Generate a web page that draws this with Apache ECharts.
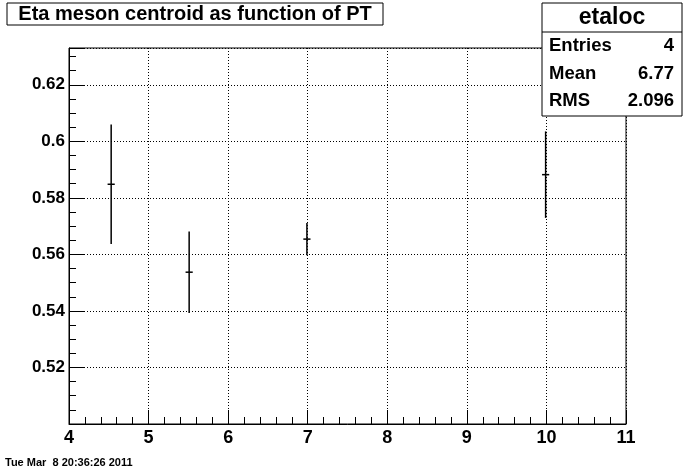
<!DOCTYPE html>
<html><head><meta charset="utf-8">
<script src="https://cdn.jsdelivr.net/npm/echarts@6/dist/echarts.min.js"></script>
<style>html,body{margin:0;padding:0;background:#fff}#c{width:696px;height:472px}</style>
</head><body><div id="c"></div>
<script>
// ---- data ----
const chartTitle = 'Eta meson centroid as function of PT';
const histName = 'etaloc';
const statLabels = ['Entries', 'Mean', 'RMS'];
const statValues = ['4', '6.77', '2.096'];
const dateText = 'Tue Mar  8 20:36:26 2011';
const xVals = [4.53, 5.51, 6.99, 9.99];
const yVals = [0.5848, 0.5537, 0.5654, 0.5882];
const yErr  = [0.0211, 0.0144, 0.0057, 0.0153];
const xErr  = [0.045, 0.045, 0.045, 0.045];
const xMin = 4, xMax = 11, xStep = 1;
const yMin = 0.5, yMax = 0.633, yStep = 0.02, yMinorStep = 0.005;

const FONT = '"Liberation Sans", Arial, Helvetica, sans-serif';
const chart = echarts.init(document.getElementById('c'), null, {renderer: 'canvas'});
const data = xVals.map((x, i) => [x, yVals[i], yErr[i], xErr[i]]);

function yFmt(v) {
  const k = Math.round(v / yStep);
  const t = k * yStep;
  if (Math.abs(v - t) > 1e-6 || t < 0.51 || t > yMax) return '';
  return String(+t.toFixed(2));
}

chart.setOption({
  animation: false,
  backgroundColor: '#fff',
  grid: {left: 69, right: 70, top: 48, bottom: 48, show: true,
         borderColor: '#000', borderWidth: 1, backgroundColor: '#fff'},
  xAxis: {
    type: 'value', min: xMin, max: xMax, interval: xStep,
    axisLine: {show: true, onZero: false, lineStyle: {color: '#000', width: 1}},
    axisTick: {show: true, inside: true, length: 14, lineStyle: {color: '#000'}},
    minorTick: {show: true, splitNumber: 5, length: 7, lineStyle: {color: '#000'}},
    axisLabel: {color: '#000', fontFamily: FONT, fontWeight: 'bold', fontSize: 18, margin: 5},
    splitLine: {show: true, lineStyle: {color: '#000', type: [1, 2], width: 1}}
  },
  yAxis: [{
    type: 'value', min: yMin, max: yMax, interval: yStep,
    axisLine: {show: true, onZero: false, lineStyle: {color: '#000', width: 1}},
    axisTick: {show: true, inside: true, length: 16, lineStyle: {color: '#000'}},
    axisLabel: {color: '#000', fontFamily: FONT, fontWeight: 'bold', fontSize: 17, margin: 4,
                formatter: yFmt, showMinLabel: true, showMaxLabel: true},
    splitLine: {show: true, lineStyle: {color: '#000', type: [1, 2], width: 1}}
  }, {
    type: 'value', min: yMin, max: yMax, interval: yMinorStep, position: 'left',
    axisLine: {show: false},
    axisTick: {show: true, inside: true, length: 7, lineStyle: {color: '#000'}},
    axisLabel: {show: false},
    splitLine: {show: false}
  }],
  series: [{
    type: 'custom',
    xAxisIndex: 0, yAxisIndex: 0,
    data: data,
    encode: {x: 0, y: 1},
    clip: false,
    renderItem: function (params, api) {
      const x = api.value(0), y = api.value(1), ey = api.value(2), ex = api.value(3);
      const top = api.coord([x, y + ey]), bot = api.coord([x, y - ey]);
      const l = api.coord([x - ex, y]), r = api.coord([x + ex, y]);
      return {type: 'group', children: [
        {type: 'line', shape: {x1: top[0], y1: top[1], x2: bot[0], y2: bot[1]},
         style: {stroke: '#000', lineWidth: 1.5}},
        {type: 'line', shape: {x1: l[0], y1: l[1], x2: r[0], y2: r[1]},
         style: {stroke: '#000', lineWidth: 1.5}}
      ]};
    }
  }],
  graphic: [
    {type: 'rect', z: 100, shape: {x: 7, y: 3, width: 376, height: 22},
     style: {fill: '#fff', stroke: '#000', lineWidth: 1}},
    {type: 'text', z: 101, x: 195, y: 14,
     style: {text: chartTitle, font: 'bold 20px ' + FONT, fill: '#000',
             textAlign: 'center', textVerticalAlign: 'middle'}},
    {type: 'rect', z: 100, shape: {x: 542, y: 3, width: 140, height: 113},
     style: {fill: '#fff', stroke: '#000', lineWidth: 1}},
    {type: 'line', z: 101, shape: {x1: 542, y1: 32, x2: 682, y2: 32},
     style: {stroke: '#000', lineWidth: 1}},
    {type: 'text', z: 101, x: 612, y: 18,
     style: {text: histName, font: 'bold 23px ' + FONT, fill: '#000',
             textAlign: 'center', textVerticalAlign: 'middle'}},
    ...statLabels.map((s, i) => ({type: 'text', z: 101, x: 549, y: 46 + i * 27.5,
     style: {text: s, font: 'bold 18.5px ' + FONT, fill: '#000',
             textAlign: 'left', textVerticalAlign: 'middle'}})),
    ...statValues.map((s, i) => ({type: 'text', z: 101, x: 674, y: 46 + i * 27.5,
     style: {text: s, font: 'bold 18.5px ' + FONT, fill: '#000',
             textAlign: 'right', textVerticalAlign: 'middle'}})),
    {type: 'text', z: 101, x: 5, y: 463,
     style: {text: dateText, font: 'bold 11px ' + FONT, fill: '#000',
             textAlign: 'left', textVerticalAlign: 'middle'}}
  ]
});
</script>
</body></html>
